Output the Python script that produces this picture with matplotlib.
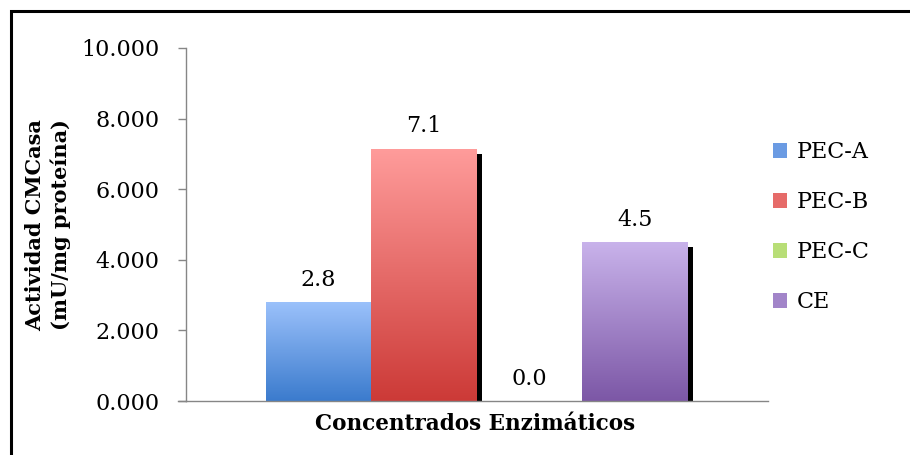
import numpy as np
import matplotlib
matplotlib.use("Agg")
import matplotlib.pyplot as plt
from matplotlib.patches import Rectangle, Patch
from matplotlib.colors import LinearSegmentedColormap

# data
series = ["PEC-A", "PEC-B", "PEC-C", "CE"]
values = [2.80, 7.15, 0.0, 4.51]
labels = ["2.8", "7.1", "0.0", "4.5"]
yticks = [0, 2, 4, 6, 8, 10]

# (top colour, bottom colour) for the gradient of each bar
tops = ["#9bc1fb", "#ff9c9b", "#d9f7ab", "#c9b3eb"]
bottoms = ["#3b7bcd", "#cc3a37", "#98c545", "#7c57a6"]
legend_cols = ["#6b9be3", "#e66b69", "#b8de77", "#a285c9"]

plt.rcParams["font.family"] = ["DejaVu Serif"]

fig = plt.figure(figsize=(9.1, 4.55), dpi=100)
W, H = 910, 455
ax = fig.add_axes([185.7 / W, (H - 401) / H, (768 - 185.7) / W, (401 - 48) / H])

x = np.arange(len(series))
sx = 5 / 105.5   # shadow offset in data units
sy = 5 / 35.3

# shadows underneath
for xi, v in zip(x, values):
    if v > 0:
        ax.bar(xi + sx, v - sy + 0.06, width=1.0, bottom=-0.06, color="black",
               zorder=1, linewidth=0)

bars = ax.bar(x, values, width=1.0, color="none", linewidth=0, zorder=2)
grad = np.linspace(0, 1, 256).reshape(-1, 1)
for b, t, bo in zip(bars, tops, bottoms):
    h = b.get_height()
    if h <= 0:
        continue
    cmap = LinearSegmentedColormap.from_list("g", [bo, t])
    im = ax.imshow(grad, cmap=cmap, aspect="auto", origin="lower",
                   extent=[b.get_x(), b.get_x() + b.get_width(), 0, h], zorder=2)
    im.set_clip_path(b)

for xi, v, lab in zip(x, values, labels):
    ax.annotate(lab, (xi, v), xytext=(0, 8), textcoords="offset points",
                ha="center", va="bottom", fontsize=16)

ax.set_xlim(-1.26, 4.26)
ax.set_ylim(0, 10)
ax.set_yticks(yticks)
ax.set_yticklabels([f"{t:.3f}" for t in yticks], fontsize=16)
ax.set_xticks([])
for s in ["top", "right"]:
    ax.spines[s].set_visible(False)
for s in ["left", "bottom"]:
    ax.spines[s].set_color("#868686")
    ax.spines[s].set_linewidth(1.0)
ax.tick_params(axis="y", length=6, width=1.0, color="#868686", pad=13)

# extend bottom axis a little to the left like the 0 tick
ax.plot([-1.26 - 8 / 105.5, -1.26], [0, 0], color="#868686", lw=1.0,
        clip_on=False, zorder=3)

fig.text(48 / W, 1 - 225 / H, "Actividad CMCasa\n(mU/mg proteína)",
         rotation=90, ha="center", va="center", fontsize=15,
         fontweight="bold", multialignment="center", linespacing=1.35)
fig.text(475 / W, 1 - 424 / H, "Concentrados Enzimáticos", ha="center",
         va="center", fontsize=15.5, fontweight="bold")

handles = [Patch(facecolor=c, edgecolor="none") for c in legend_cols]
fig.legend(handles, series, loc="upper left",
           bbox_to_anchor=(773 / W, 1 - 141 / H), frameon=False,
           fontsize=16, handlelength=0.65, handleheight=0.65,
           handletextpad=0.4, labelspacing=1.26, borderpad=0,
           borderaxespad=0)

fig.patches.append(Rectangle((11 / W, -0.1), 1.0, 1.1 - 11 / H,
                             transform=fig.transFigure, fill=False,
                             edgecolor="black", linewidth=2.2))

fig.savefig("out.png", dpi=100)
